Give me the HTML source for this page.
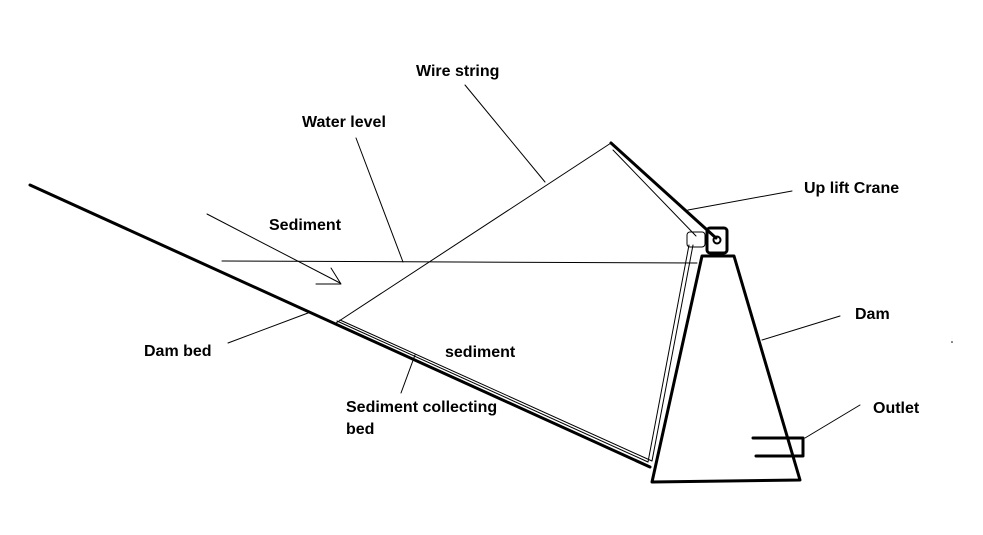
<!DOCTYPE html>
<html><head><meta charset="utf-8"><style>
html,body{margin:0;padding:0;background:#fff;}
svg text{font-family:"Liberation Sans",sans-serif;font-weight:bold;font-size:16px;fill:#000;}
</style></head><body>
<svg width="983" height="530" viewBox="0 0 983 530" xmlns="http://www.w3.org/2000/svg">
<g fill="none" stroke="#000" stroke-linecap="round" stroke-linejoin="round">
<!-- dam bed -->
<line x1="30" y1="185" x2="650" y2="467" stroke-width="3"/>
<!-- sediment collecting bed -->
<polyline points="337,321 648,462 689,245" stroke-width="1"/>
<polyline points="340,320 652,461 693,245" stroke-width="1"/>
<rect x="687" y="232" width="18" height="15" rx="3" stroke-width="1"/>
<!-- crane arm -->
<line x1="611" y1="143" x2="716" y2="238" stroke-width="3"/>
<line x1="613" y1="150" x2="696" y2="236" stroke-width="1"/>
<rect x="707" y="228" width="20" height="25" rx="3" stroke-width="3"/>
<circle cx="717" cy="240" r="3.5" stroke-width="2"/>
<!-- dam -->
<polygon points="702,256 734,256 800,480 652,482" stroke-width="3"/>
<!-- outlet -->
<polyline points="753,438 803,438 803,456 756,456" stroke-width="3"/>
<!-- water level -->
<line x1="222" y1="261" x2="697" y2="263" stroke-width="1"/>
<!-- wire string -->
<line x1="336" y1="323" x2="611" y2="143" stroke-width="1"/>
<!-- sediment arrow -->
<line x1="207" y1="214" x2="340" y2="283" stroke-width="1"/>
<polyline points="331,268 341,284 316,284" stroke-width="1"/>
<!-- leaders -->
<line x1="403" y1="262" x2="356" y2="138" stroke-width="1"/>
<line x1="545" y1="182" x2="465" y2="85" stroke-width="1"/>
<line x1="688" y1="210" x2="792" y2="191" stroke-width="1"/>
<line x1="762" y1="340" x2="840" y2="316" stroke-width="1"/>
<line x1="805" y1="438" x2="860" y2="405" stroke-width="1"/>
<line x1="228" y1="343" x2="308" y2="313" stroke-width="1"/>
<line x1="401" y1="393" x2="415" y2="355" stroke-width="1"/>
</g>
<circle cx="952" cy="342" r="0.8" fill="#000"/>
<text x="416" y="76">Wire string</text>
<text x="302" y="127">Water level</text>
<text x="269" y="230">Sediment</text>
<text x="804" y="193">Up lift Crane</text>
<text x="144" y="356">Dam bed</text>
<text x="445" y="357">sediment</text>
<text x="346" y="412">Sediment collecting</text>
<text x="346" y="434">bed</text>
<text x="855" y="319">Dam</text>
<text x="873" y="413">Outlet</text>
</svg>
</body></html>
